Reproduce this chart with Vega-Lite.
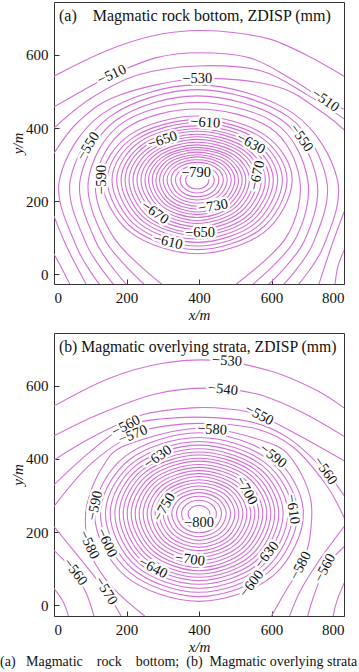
{
"$schema": "https://vega.github.io/schema/vega-lite/v6.json",
"background": "white",
"padding": {"left": 0, "top": 1, "right": 0, "bottom": 0},
"spacing": 9,
"config": {
  "view": {"stroke": "#333", "strokeWidth": 1},
  "axis": {"domain": false, "grid": false, "tickSize": -5, "tickColor": "#333", "tickWidth": 1, "labelFont": "Liberation Serif", "labelFontSize": 15, "labelColor": "#111", "titleFont": "Liberation Serif", "titleFontSize": 15, "titleFontWeight": "normal", "titleFontStyle": "italic", "titleColor": "#111"},
  "axisX": {"labelPadding": 11, "titlePadding": 2},
  "axisY": {"labelPadding": 11, "titlePadding": 0}
},
"title": {"text": "(a)\u00a0\u00a0\u00a0Magmatic\u00a0\u00a0\u00a0\u00a0rock\u00a0\u00a0\u00a0\u00a0bottom;\u00a0\u00a0(b)\u00a0\u00a0Magmatic overlying strata", "orient": "bottom", "anchor": "start", "frame": "group", "offset": 0, "dx": -54, "font": "Liberation Serif", "fontSize": 14, "fontWeight": "normal", "color": "#111"},
"datasets": {
"rings": [
{"p":"a","c":"-790","i":0,"x":427,"y":258},{"p":"a","c":"-790","i":1,"x":418,"y":273},{"p":"a","c":"-790","i":2,"x":395,"y":279},{"p":"a","c":"-790","i":3,"x":372,"y":273},{"p":"a","c":"-790","i":4,"x":363,"y":258},{"p":"a","c":"-790","i":5,"x":372,"y":240},{"p":"a","c":"-790","i":6,"x":395,"y":233},{"p":"a","c":"-790","i":7,"x":418,"y":240},
{"p":"a","c":"-780","i":0,"x":442,"y":258},{"p":"a","c":"-780","i":1,"x":428,"y":280},{"p":"a","c":"-780","i":2,"x":395,"y":289},{"p":"a","c":"-780","i":3,"x":362,"y":280},{"p":"a","c":"-780","i":4,"x":348,"y":258},{"p":"a","c":"-780","i":5,"x":362,"y":233},{"p":"a","c":"-780","i":6,"x":395,"y":222},{"p":"a","c":"-780","i":7,"x":428,"y":233},
{"p":"a","c":"-770","i":0,"x":455,"y":258},{"p":"a","c":"-770","i":1,"x":437,"y":286},{"p":"a","c":"-770","i":2,"x":395,"y":298},{"p":"a","c":"-770","i":3,"x":353,"y":286},{"p":"a","c":"-770","i":4,"x":335,"y":258},{"p":"a","c":"-770","i":5,"x":353,"y":225},{"p":"a","c":"-770","i":6,"x":395,"y":212},{"p":"a","c":"-770","i":7,"x":437,"y":225},
{"p":"a","c":"-760","i":0,"x":467,"y":258},{"p":"a","c":"-760","i":1,"x":446,"y":292},{"p":"a","c":"-760","i":2,"x":395,"y":306},{"p":"a","c":"-760","i":3,"x":344,"y":292},{"p":"a","c":"-760","i":4,"x":323,"y":258},{"p":"a","c":"-760","i":5,"x":344,"y":219},{"p":"a","c":"-760","i":6,"x":395,"y":203},{"p":"a","c":"-760","i":7,"x":446,"y":219},
{"p":"a","c":"-750","i":0,"x":478,"y":258},{"p":"a","c":"-750","i":1,"x":454,"y":297},{"p":"a","c":"-750","i":2,"x":395,"y":313},{"p":"a","c":"-750","i":3,"x":336,"y":297},{"p":"a","c":"-750","i":4,"x":312,"y":258},{"p":"a","c":"-750","i":5,"x":336,"y":213},{"p":"a","c":"-750","i":6,"x":395,"y":194},{"p":"a","c":"-750","i":7,"x":454,"y":213},
{"p":"a","c":"-740","i":0,"x":489,"y":258},{"p":"a","c":"-740","i":1,"x":461,"y":303},{"p":"a","c":"-740","i":2,"x":395,"y":321},{"p":"a","c":"-740","i":3,"x":329,"y":303},{"p":"a","c":"-740","i":4,"x":301,"y":258},{"p":"a","c":"-740","i":5,"x":329,"y":207},{"p":"a","c":"-740","i":6,"x":395,"y":186},{"p":"a","c":"-740","i":7,"x":461,"y":207},
{"p":"a","c":"-730","i":0,"x":499,"y":258},{"p":"a","c":"-730","i":1,"x":469,"y":307},{"p":"a","c":"-730","i":2,"x":395,"y":327},{"p":"a","c":"-730","i":3,"x":321,"y":307},{"p":"a","c":"-730","i":4,"x":291,"y":258},{"p":"a","c":"-730","i":5,"x":321,"y":201},{"p":"a","c":"-730","i":6,"x":395,"y":178},{"p":"a","c":"-730","i":7,"x":469,"y":201},
{"p":"a","c":"-720","i":0,"x":509,"y":258},{"p":"a","c":"-720","i":1,"x":476,"y":312},{"p":"a","c":"-720","i":2,"x":395,"y":334},{"p":"a","c":"-720","i":3,"x":314,"y":312},{"p":"a","c":"-720","i":4,"x":281,"y":258},{"p":"a","c":"-720","i":5,"x":314,"y":196},{"p":"a","c":"-720","i":6,"x":395,"y":170},{"p":"a","c":"-720","i":7,"x":476,"y":196},
{"p":"a","c":"-710","i":0,"x":519,"y":258},{"p":"a","c":"-710","i":1,"x":483,"y":317},{"p":"a","c":"-710","i":2,"x":395,"y":341},{"p":"a","c":"-710","i":3,"x":307,"y":317},{"p":"a","c":"-710","i":4,"x":271,"y":258},{"p":"a","c":"-710","i":5,"x":307,"y":191},{"p":"a","c":"-710","i":6,"x":395,"y":163},{"p":"a","c":"-710","i":7,"x":483,"y":191},
{"p":"a","c":"-700","i":0,"x":529,"y":258},{"p":"a","c":"-700","i":1,"x":490,"y":321},{"p":"a","c":"-700","i":2,"x":395,"y":347},{"p":"a","c":"-700","i":3,"x":300,"y":321},{"p":"a","c":"-700","i":4,"x":261,"y":258},{"p":"a","c":"-700","i":5,"x":300,"y":185},{"p":"a","c":"-700","i":6,"x":395,"y":155},{"p":"a","c":"-700","i":7,"x":490,"y":185},
{"p":"a","c":"-690","i":0,"x":539,"y":258},{"p":"a","c":"-690","i":1,"x":497,"y":326},{"p":"a","c":"-690","i":2,"x":395,"y":354},{"p":"a","c":"-690","i":3,"x":293,"y":326},{"p":"a","c":"-690","i":4,"x":251,"y":258},{"p":"a","c":"-690","i":5,"x":293,"y":180},{"p":"a","c":"-690","i":6,"x":395,"y":147},{"p":"a","c":"-690","i":7,"x":497,"y":180},
{"p":"a","c":"-680","i":0,"x":550,"y":258},{"p":"a","c":"-680","i":1,"x":505,"y":331},{"p":"a","c":"-680","i":2,"x":395,"y":361},{"p":"a","c":"-680","i":3,"x":285,"y":331},{"p":"a","c":"-680","i":4,"x":240,"y":258},{"p":"a","c":"-680","i":5,"x":285,"y":174},{"p":"a","c":"-680","i":6,"x":395,"y":139},{"p":"a","c":"-680","i":7,"x":505,"y":174},
{"p":"a","c":"-670","i":0,"x":561,"y":258},{"p":"a","c":"-670","i":1,"x":512,"y":336},{"p":"a","c":"-670","i":2,"x":395,"y":369},{"p":"a","c":"-670","i":3,"x":278,"y":336},{"p":"a","c":"-670","i":4,"x":229,"y":258},{"p":"a","c":"-670","i":5,"x":278,"y":168},{"p":"a","c":"-670","i":6,"x":395,"y":130},{"p":"a","c":"-670","i":7,"x":512,"y":168},
{"p":"a","c":"-660","i":0,"x":572,"y":258},{"p":"a","c":"-660","i":1,"x":520,"y":341},{"p":"a","c":"-660","i":2,"x":395,"y":376},{"p":"a","c":"-660","i":3,"x":270,"y":341},{"p":"a","c":"-660","i":4,"x":218,"y":258},{"p":"a","c":"-660","i":5,"x":270,"y":162},{"p":"a","c":"-660","i":6,"x":395,"y":122},{"p":"a","c":"-660","i":7,"x":520,"y":162},
{"p":"a","c":"-650","i":0,"x":583,"y":258},{"p":"a","c":"-650","i":1,"x":528,"y":346},{"p":"a","c":"-650","i":2,"x":395,"y":383},{"p":"a","c":"-650","i":3,"x":262,"y":346},{"p":"a","c":"-650","i":4,"x":207,"y":258},{"p":"a","c":"-650","i":5,"x":262,"y":155},{"p":"a","c":"-650","i":6,"x":395,"y":113},{"p":"a","c":"-650","i":7,"x":528,"y":155},
{"p":"a","c":"-640","i":0,"x":594,"y":258},{"p":"a","c":"-640","i":1,"x":536,"y":352},{"p":"a","c":"-640","i":2,"x":395,"y":391},{"p":"a","c":"-640","i":3,"x":254,"y":352},{"p":"a","c":"-640","i":4,"x":196,"y":258},{"p":"a","c":"-640","i":5,"x":254,"y":150},{"p":"a","c":"-640","i":6,"x":395,"y":105},{"p":"a","c":"-640","i":7,"x":536,"y":150},
{"p":"a","c":"-630","i":0,"x":605,"y":258},{"p":"a","c":"-630","i":1,"x":543,"y":357},{"p":"a","c":"-630","i":2,"x":395,"y":398},{"p":"a","c":"-630","i":3,"x":247,"y":357},{"p":"a","c":"-630","i":4,"x":185,"y":258},{"p":"a","c":"-630","i":5,"x":247,"y":143},{"p":"a","c":"-630","i":6,"x":395,"y":96},{"p":"a","c":"-630","i":7,"x":543,"y":143},
{"p":"a","c":"-620","i":0,"x":617,"y":258},{"p":"a","c":"-620","i":1,"x":552,"y":363},{"p":"a","c":"-620","i":2,"x":395,"y":406},{"p":"a","c":"-620","i":3,"x":238,"y":363},{"p":"a","c":"-620","i":4,"x":173,"y":258},{"p":"a","c":"-620","i":5,"x":238,"y":137},{"p":"a","c":"-620","i":6,"x":395,"y":87},{"p":"a","c":"-620","i":7,"x":552,"y":137},
{"p":"a","c":"-610","i":0,"x":630,"y":258},{"p":"a","c":"-610","i":1,"x":561,"y":369},{"p":"a","c":"-610","i":2,"x":395,"y":415},{"p":"a","c":"-610","i":3,"x":229,"y":369},{"p":"a","c":"-610","i":4,"x":160,"y":258},{"p":"a","c":"-610","i":5,"x":229,"y":130},{"p":"a","c":"-610","i":6,"x":395,"y":77},{"p":"a","c":"-610","i":7,"x":561,"y":130},
{"p":"a","c":"-600","i":0,"x":643,"y":258},{"p":"a","c":"-600","i":1,"x":570,"y":375},{"p":"a","c":"-600","i":2,"x":395,"y":423},{"p":"a","c":"-600","i":3,"x":220,"y":375},{"p":"a","c":"-600","i":4,"x":147,"y":258},{"p":"a","c":"-600","i":5,"x":220,"y":123},{"p":"a","c":"-600","i":6,"x":395,"y":67},{"p":"a","c":"-600","i":7,"x":570,"y":123},
{"p":"a","c":"-590","i":0,"x":657,"y":258},{"p":"a","c":"-590","i":1,"x":580,"y":382},{"p":"a","c":"-590","i":2,"x":395,"y":433},{"p":"a","c":"-590","i":3,"x":210,"y":382},{"p":"a","c":"-590","i":4,"x":133,"y":258},{"p":"a","c":"-590","i":5,"x":210,"y":115},{"p":"a","c":"-590","i":6,"x":395,"y":56},{"p":"a","c":"-590","i":7,"x":580,"y":115},
{"p":"b","c":"-800","i":0,"x":430,"y":250},{"p":"b","c":"-800","i":1,"x":421,"y":266},{"p":"b","c":"-800","i":2,"x":400,"y":273},{"p":"b","c":"-800","i":3,"x":379,"y":266},{"p":"b","c":"-800","i":4,"x":370,"y":250},{"p":"b","c":"-800","i":5,"x":379,"y":232},{"p":"b","c":"-800","i":6,"x":400,"y":225},{"p":"b","c":"-800","i":7,"x":421,"y":232},
{"p":"b","c":"-790","i":0,"x":448,"y":250},{"p":"b","c":"-790","i":1,"x":434,"y":276},{"p":"b","c":"-790","i":2,"x":400,"y":287},{"p":"b","c":"-790","i":3,"x":366,"y":276},{"p":"b","c":"-790","i":4,"x":352,"y":250},{"p":"b","c":"-790","i":5,"x":366,"y":222},{"p":"b","c":"-790","i":6,"x":400,"y":210},{"p":"b","c":"-790","i":7,"x":434,"y":222},
{"p":"b","c":"-780","i":0,"x":462,"y":250},{"p":"b","c":"-780","i":1,"x":444,"y":284},{"p":"b","c":"-780","i":2,"x":400,"y":298},{"p":"b","c":"-780","i":3,"x":356,"y":284},{"p":"b","c":"-780","i":4,"x":338,"y":250},{"p":"b","c":"-780","i":5,"x":356,"y":213},{"p":"b","c":"-780","i":6,"x":400,"y":198},{"p":"b","c":"-780","i":7,"x":444,"y":213},
{"p":"b","c":"-770","i":0,"x":475,"y":250},{"p":"b","c":"-770","i":1,"x":453,"y":291},{"p":"b","c":"-770","i":2,"x":400,"y":308},{"p":"b","c":"-770","i":3,"x":347,"y":291},{"p":"b","c":"-770","i":4,"x":325,"y":250},{"p":"b","c":"-770","i":5,"x":347,"y":206},{"p":"b","c":"-770","i":6,"x":400,"y":187},{"p":"b","c":"-770","i":7,"x":453,"y":206},
{"p":"b","c":"-760","i":0,"x":487,"y":250},{"p":"b","c":"-760","i":1,"x":462,"y":297},{"p":"b","c":"-760","i":2,"x":400,"y":317},{"p":"b","c":"-760","i":3,"x":338,"y":297},{"p":"b","c":"-760","i":4,"x":313,"y":250},{"p":"b","c":"-760","i":5,"x":338,"y":199},{"p":"b","c":"-760","i":6,"x":400,"y":177},{"p":"b","c":"-760","i":7,"x":462,"y":199},
{"p":"b","c":"-750","i":0,"x":499,"y":250},{"p":"b","c":"-750","i":1,"x":470,"y":304},{"p":"b","c":"-750","i":2,"x":400,"y":326},{"p":"b","c":"-750","i":3,"x":330,"y":304},{"p":"b","c":"-750","i":4,"x":301,"y":250},{"p":"b","c":"-750","i":5,"x":330,"y":192},{"p":"b","c":"-750","i":6,"x":400,"y":167},{"p":"b","c":"-750","i":7,"x":470,"y":192},
{"p":"b","c":"-740","i":0,"x":510,"y":250},{"p":"b","c":"-740","i":1,"x":478,"y":310},{"p":"b","c":"-740","i":2,"x":400,"y":335},{"p":"b","c":"-740","i":3,"x":322,"y":310},{"p":"b","c":"-740","i":4,"x":290,"y":250},{"p":"b","c":"-740","i":5,"x":322,"y":185},{"p":"b","c":"-740","i":6,"x":400,"y":158},{"p":"b","c":"-740","i":7,"x":478,"y":185},
{"p":"b","c":"-730","i":0,"x":521,"y":250},{"p":"b","c":"-730","i":1,"x":486,"y":316},{"p":"b","c":"-730","i":2,"x":400,"y":343},{"p":"b","c":"-730","i":3,"x":314,"y":316},{"p":"b","c":"-730","i":4,"x":279,"y":250},{"p":"b","c":"-730","i":5,"x":314,"y":179},{"p":"b","c":"-730","i":6,"x":400,"y":149},{"p":"b","c":"-730","i":7,"x":486,"y":179},
{"p":"b","c":"-720","i":0,"x":532,"y":250},{"p":"b","c":"-720","i":1,"x":493,"y":322},{"p":"b","c":"-720","i":2,"x":400,"y":352},{"p":"b","c":"-720","i":3,"x":307,"y":322},{"p":"b","c":"-720","i":4,"x":268,"y":250},{"p":"b","c":"-720","i":5,"x":307,"y":172},{"p":"b","c":"-720","i":6,"x":400,"y":140},{"p":"b","c":"-720","i":7,"x":493,"y":172},
{"p":"b","c":"-710","i":0,"x":543,"y":250},{"p":"b","c":"-710","i":1,"x":501,"y":328},{"p":"b","c":"-710","i":2,"x":400,"y":360},{"p":"b","c":"-710","i":3,"x":299,"y":328},{"p":"b","c":"-710","i":4,"x":257,"y":250},{"p":"b","c":"-710","i":5,"x":299,"y":166},{"p":"b","c":"-710","i":6,"x":400,"y":131},{"p":"b","c":"-710","i":7,"x":501,"y":166},
{"p":"b","c":"-700","i":0,"x":554,"y":250},{"p":"b","c":"-700","i":1,"x":509,"y":334},{"p":"b","c":"-700","i":2,"x":400,"y":368},{"p":"b","c":"-700","i":3,"x":291,"y":334},{"p":"b","c":"-700","i":4,"x":246,"y":250},{"p":"b","c":"-700","i":5,"x":291,"y":159},{"p":"b","c":"-700","i":6,"x":400,"y":122},{"p":"b","c":"-700","i":7,"x":509,"y":159},
{"p":"b","c":"-690","i":0,"x":565,"y":250},{"p":"b","c":"-690","i":1,"x":517,"y":340},{"p":"b","c":"-690","i":2,"x":400,"y":377},{"p":"b","c":"-690","i":3,"x":283,"y":340},{"p":"b","c":"-690","i":4,"x":235,"y":250},{"p":"b","c":"-690","i":5,"x":283,"y":153},{"p":"b","c":"-690","i":6,"x":400,"y":112},{"p":"b","c":"-690","i":7,"x":517,"y":153},
{"p":"b","c":"-680","i":0,"x":576,"y":250},{"p":"b","c":"-680","i":1,"x":524,"y":346},{"p":"b","c":"-680","i":2,"x":400,"y":385},{"p":"b","c":"-680","i":3,"x":276,"y":346},{"p":"b","c":"-680","i":4,"x":224,"y":250},{"p":"b","c":"-680","i":5,"x":276,"y":146},{"p":"b","c":"-680","i":6,"x":400,"y":103},{"p":"b","c":"-680","i":7,"x":524,"y":146},
{"p":"b","c":"-670","i":0,"x":587,"y":250},{"p":"b","c":"-670","i":1,"x":532,"y":352},{"p":"b","c":"-670","i":2,"x":400,"y":394},{"p":"b","c":"-670","i":3,"x":268,"y":352},{"p":"b","c":"-670","i":4,"x":213,"y":250},{"p":"b","c":"-670","i":5,"x":268,"y":140},{"p":"b","c":"-670","i":6,"x":400,"y":94},{"p":"b","c":"-670","i":7,"x":532,"y":140},
{"p":"b","c":"-660","i":0,"x":598,"y":250},{"p":"b","c":"-660","i":1,"x":540,"y":358},{"p":"b","c":"-660","i":2,"x":400,"y":402},{"p":"b","c":"-660","i":3,"x":260,"y":358},{"p":"b","c":"-660","i":4,"x":202,"y":250},{"p":"b","c":"-660","i":5,"x":260,"y":133},{"p":"b","c":"-660","i":6,"x":400,"y":85},{"p":"b","c":"-660","i":7,"x":540,"y":133},
{"p":"b","c":"-650","i":0,"x":609,"y":250},{"p":"b","c":"-650","i":1,"x":548,"y":364},{"p":"b","c":"-650","i":2,"x":400,"y":411},{"p":"b","c":"-650","i":3,"x":252,"y":364},{"p":"b","c":"-650","i":4,"x":191,"y":250},{"p":"b","c":"-650","i":5,"x":252,"y":127},{"p":"b","c":"-650","i":6,"x":400,"y":76},{"p":"b","c":"-650","i":7,"x":548,"y":127},
{"p":"b","c":"-640","i":0,"x":620,"y":250},{"p":"b","c":"-640","i":1,"x":556,"y":370},{"p":"b","c":"-640","i":2,"x":400,"y":419},{"p":"b","c":"-640","i":3,"x":244,"y":370},{"p":"b","c":"-640","i":4,"x":180,"y":250},{"p":"b","c":"-640","i":5,"x":244,"y":120},{"p":"b","c":"-640","i":6,"x":400,"y":67},{"p":"b","c":"-640","i":7,"x":556,"y":120},
{"p":"b","c":"-630","i":0,"x":632,"y":250},{"p":"b","c":"-630","i":1,"x":564,"y":376},{"p":"b","c":"-630","i":2,"x":400,"y":428},{"p":"b","c":"-630","i":3,"x":236,"y":376},{"p":"b","c":"-630","i":4,"x":168,"y":250},{"p":"b","c":"-630","i":5,"x":236,"y":113},{"p":"b","c":"-630","i":6,"x":400,"y":57},{"p":"b","c":"-630","i":7,"x":564,"y":113},
{"p":"b","c":"-620","i":0,"x":645,"y":250},{"p":"b","c":"-620","i":1,"x":573,"y":383},{"p":"b","c":"-620","i":2,"x":400,"y":438},{"p":"b","c":"-620","i":3,"x":227,"y":383},{"p":"b","c":"-620","i":4,"x":155,"y":250},{"p":"b","c":"-620","i":5,"x":227,"y":106},{"p":"b","c":"-620","i":6,"x":400,"y":46},{"p":"b","c":"-620","i":7,"x":573,"y":106},
{"p":"b","c":"-610","i":0,"x":658,"y":250},{"p":"b","c":"-610","i":1,"x":582,"y":390},{"p":"b","c":"-610","i":2,"x":400,"y":448},{"p":"b","c":"-610","i":3,"x":218,"y":390},{"p":"b","c":"-610","i":4,"x":142,"y":250},{"p":"b","c":"-610","i":5,"x":218,"y":98},{"p":"b","c":"-610","i":6,"x":400,"y":35},{"p":"b","c":"-610","i":7,"x":582,"y":98},
{"p":"b","c":"-600","i":0,"x":672,"y":250},{"p":"b","c":"-600","i":1,"x":592,"y":398},{"p":"b","c":"-600","i":2,"x":400,"y":459},{"p":"b","c":"-600","i":3,"x":208,"y":398},{"p":"b","c":"-600","i":4,"x":128,"y":250},{"p":"b","c":"-600","i":5,"x":208,"y":90},{"p":"b","c":"-600","i":6,"x":400,"y":23},{"p":"b","c":"-600","i":7,"x":592,"y":90},
{"p":"b","c":"-590","i":0,"x":688,"y":250},{"p":"b","c":"-590","i":1,"x":604,"y":407},{"p":"b","c":"-590","i":2,"x":400,"y":472},{"p":"b","c":"-590","i":3,"x":196,"y":407},{"p":"b","c":"-590","i":4,"x":112,"y":250},{"p":"b","c":"-590","i":5,"x":196,"y":80},{"p":"b","c":"-590","i":6,"x":400,"y":10},{"p":"b","c":"-590","i":7,"x":604,"y":80}
],
"open": [
{"p":"a","c":"-580h","i":0,"x":300,"y":-30},{"p":"a","c":"-580h","i":1,"x":165,"y":100},{"p":"a","c":"-580h","i":2,"x":115,"y":258},{"p":"a","c":"-580h","i":3,"x":200,"y":400},{"p":"a","c":"-580h","i":4,"x":395,"y":452},{"p":"a","c":"-580h","i":5,"x":597,"y":400},{"p":"a","c":"-580h","i":6,"x":678,"y":258},{"p":"a","c":"-580h","i":7,"x":640,"y":100},{"p":"a","c":"-580h","i":8,"x":499,"y":-30},
{"p":"a","c":"-570h","i":0,"x":251,"y":-30},{"p":"a","c":"-570h","i":1,"x":140,"y":95},{"p":"a","c":"-570h","i":2,"x":95,"y":258},{"p":"a","c":"-570h","i":3,"x":186,"y":412},{"p":"a","c":"-570h","i":4,"x":395,"y":470},{"p":"a","c":"-570h","i":5,"x":612,"y":412},{"p":"a","c":"-570h","i":6,"x":700,"y":258},{"p":"a","c":"-570h","i":7,"x":665,"y":95},{"p":"a","c":"-570h","i":8,"x":546,"y":-30},
{"p":"a","c":"-560h","i":0,"x":201,"y":-30},{"p":"a","c":"-560h","i":1,"x":115,"y":90},{"p":"a","c":"-560h","i":2,"x":72,"y":258},{"p":"a","c":"-560h","i":3,"x":172,"y":422},{"p":"a","c":"-560h","i":4,"x":395,"y":488},{"p":"a","c":"-560h","i":5,"x":628,"y":422},{"p":"a","c":"-560h","i":6,"x":725,"y":258},{"p":"a","c":"-560h","i":7,"x":690,"y":90},{"p":"a","c":"-560h","i":8,"x":590,"y":-30},
{"p":"a","c":"-550h","i":0,"x":166,"y":-30},{"p":"a","c":"-550h","i":1,"x":88,"y":85},{"p":"a","c":"-550h","i":2,"x":45,"y":258},{"p":"a","c":"-550h","i":3,"x":155,"y":432},{"p":"a","c":"-550h","i":4,"x":395,"y":505},{"p":"a","c":"-550h","i":5,"x":645,"y":432},{"p":"a","c":"-550h","i":6,"x":752,"y":258},{"p":"a","c":"-550h","i":7,"x":715,"y":85},{"p":"a","c":"-550h","i":8,"x":632,"y":-30},
{"p":"a","c":"-540h","i":0,"x":127,"y":-30},{"p":"a","c":"-540h","i":1,"x":60,"y":80},{"p":"a","c":"-540h","i":2,"x":15,"y":258},{"p":"a","c":"-540h","i":3,"x":135,"y":440},{"p":"a","c":"-540h","i":4,"x":395,"y":518},{"p":"a","c":"-540h","i":5,"x":660,"y":440},{"p":"a","c":"-540h","i":6,"x":782,"y":258},{"p":"a","c":"-540h","i":7,"x":745,"y":80},{"p":"a","c":"-540h","i":8,"x":673,"y":-30},
{"p":"a","c":"-530t","i":0,"x":0,"y":331},{"p":"a","c":"-530t","i":1,"x":70,"y":420},{"p":"a","c":"-530t","i":2,"x":180,"y":490},{"p":"a","c":"-530t","i":3,"x":395,"y":535},{"p":"a","c":"-530t","i":4,"x":610,"y":515},{"p":"a","c":"-530t","i":5,"x":730,"y":450},{"p":"a","c":"-530t","i":6,"x":800,"y":395},
{"p":"a","c":"-520t","i":0,"x":0,"y":400},{"p":"a","c":"-520t","i":1,"x":100,"y":480},{"p":"a","c":"-520t","i":2,"x":230,"y":545},{"p":"a","c":"-520t","i":3,"x":395,"y":570},{"p":"a","c":"-520t","i":4,"x":570,"y":557},{"p":"a","c":"-520t","i":5,"x":700,"y":490},{"p":"a","c":"-520t","i":6,"x":800,"y":425},
{"p":"a","c":"-510t","i":0,"x":0,"y":458},{"p":"a","c":"-510t","i":1,"x":80,"y":503},{"p":"a","c":"-510t","i":2,"x":160,"y":545},{"p":"a","c":"-510t","i":3,"x":280,"y":592},{"p":"a","c":"-510t","i":4,"x":400,"y":606},{"p":"a","c":"-510t","i":5,"x":540,"y":592},{"p":"a","c":"-510t","i":6,"x":650,"y":537},{"p":"a","c":"-510t","i":7,"x":748,"y":475},{"p":"a","c":"-510t","i":8,"x":800,"y":452},
{"p":"a","c":"-500t","i":0,"x":0,"y":542},{"p":"a","c":"-500t","i":1,"x":100,"y":592},{"p":"a","c":"-500t","i":2,"x":200,"y":632},{"p":"a","c":"-500t","i":3,"x":300,"y":658},{"p":"a","c":"-500t","i":4,"x":400,"y":667},{"p":"a","c":"-500t","i":5,"x":500,"y":661},{"p":"a","c":"-500t","i":6,"x":600,"y":642},{"p":"a","c":"-500t","i":7,"x":700,"y":598},{"p":"a","c":"-500t","i":8,"x":800,"y":542},
{"p":"a","c":"-530l","i":0,"x":0,"y":159},{"p":"a","c":"-530l","i":1,"x":35,"y":75},{"p":"a","c":"-530l","i":2,"x":90,"y":-30},
{"p":"a","c":"-520l","i":0,"x":0,"y":55},{"p":"a","c":"-520l","i":1,"x":22,"y":15},{"p":"a","c":"-520l","i":2,"x":45,"y":-30},
{"p":"a","c":"-530r","i":0,"x":800,"y":170},{"p":"a","c":"-530r","i":1,"x":765,"y":75},{"p":"a","c":"-530r","i":2,"x":730,"y":-30},
{"p":"a","c":"-520r","i":0,"x":800,"y":65},{"p":"a","c":"-520r","i":1,"x":783,"y":20},{"p":"a","c":"-520r","i":2,"x":775,"y":-30},
{"p":"b","c":"-530t","i":0,"x":0,"y":545},{"p":"b","c":"-530t","i":1,"x":150,"y":620},{"p":"b","c":"-530t","i":2,"x":300,"y":662},{"p":"b","c":"-530t","i":3,"x":450,"y":670},{"p":"b","c":"-530t","i":4,"x":600,"y":640},{"p":"b","c":"-530t","i":5,"x":720,"y":590},{"p":"b","c":"-530t","i":6,"x":800,"y":540},
{"p":"b","c":"-540t","i":0,"x":0,"y":463},{"p":"b","c":"-540t","i":1,"x":130,"y":525},{"p":"b","c":"-540t","i":2,"x":280,"y":578},{"p":"b","c":"-540t","i":3,"x":420,"y":594},{"p":"b","c":"-540t","i":4,"x":560,"y":578},{"p":"b","c":"-540t","i":5,"x":680,"y":530},{"p":"b","c":"-540t","i":6,"x":800,"y":462},
{"p":"b","c":"-550t","i":0,"x":0,"y":397},{"p":"b","c":"-550t","i":1,"x":110,"y":462},{"p":"b","c":"-550t","i":2,"x":240,"y":520},{"p":"b","c":"-550t","i":3,"x":380,"y":540},{"p":"b","c":"-550t","i":4,"x":480,"y":537},{"p":"b","c":"-550t","i":5,"x":566,"y":520},{"p":"b","c":"-550t","i":6,"x":680,"y":462},{"p":"b","c":"-550t","i":7,"x":800,"y":395},
{"p":"b","c":"-560t","i":0,"x":0,"y":329},{"p":"b","c":"-560t","i":1,"x":100,"y":420},{"p":"b","c":"-560t","i":2,"x":199,"y":490},{"p":"b","c":"-560t","i":3,"x":300,"y":510},{"p":"b","c":"-560t","i":4,"x":420,"y":514},{"p":"b","c":"-560t","i":5,"x":550,"y":500},{"p":"b","c":"-560t","i":6,"x":650,"y":455},{"p":"b","c":"-560t","i":7,"x":748,"y":367},{"p":"b","c":"-560t","i":8,"x":800,"y":300},
{"p":"b","c":"-570t","i":0,"x":0,"y":270},{"p":"b","c":"-570t","i":1,"x":100,"y":385},{"p":"b","c":"-570t","i":2,"x":218,"y":466},{"p":"b","c":"-570t","i":3,"x":320,"y":492},{"p":"b","c":"-570t","i":4,"x":430,"y":497},{"p":"b","c":"-570t","i":5,"x":560,"y":482},{"p":"b","c":"-570t","i":6,"x":660,"y":432},{"p":"b","c":"-570t","i":7,"x":750,"y":330},{"p":"b","c":"-570t","i":8,"x":800,"y":240},
{"p":"b","c":"-580h","i":0,"x":250,"y":-30},{"p":"b","c":"-580h","i":1,"x":160,"y":50},{"p":"b","c":"-580h","i":2,"x":105,"y":130},{"p":"b","c":"-580h","i":3,"x":88,"y":200},{"p":"b","c":"-580h","i":4,"x":92,"y":280},{"p":"b","c":"-580h","i":5,"x":135,"y":380},{"p":"b","c":"-580h","i":6,"x":200,"y":438},{"p":"b","c":"-580h","i":7,"x":400,"y":484},{"p":"b","c":"-580h","i":8,"x":590,"y":445},{"p":"b","c":"-580h","i":9,"x":660,"y":395},{"p":"b","c":"-580h","i":10,"x":708,"y":290},{"p":"b","c":"-580h","i":11,"x":705,"y":180},{"p":"b","c":"-580h","i":12,"x":681,"y":107},{"p":"b","c":"-580h","i":13,"x":640,"y":40},{"p":"b","c":"-580h","i":14,"x":600,"y":-30},
{"p":"b","c":"-550l","i":0,"x":0,"y":45},{"p":"b","c":"-550l","i":1,"x":25,"y":10},{"p":"b","c":"-550l","i":2,"x":40,"y":-30},
{"p":"b","c":"-560l","i":0,"x":0,"y":150},{"p":"b","c":"-560l","i":1,"x":30,"y":120},{"p":"b","c":"-560l","i":2,"x":58,"y":90},{"p":"b","c":"-560l","i":3,"x":90,"y":30},{"p":"b","c":"-560l","i":4,"x":110,"y":-30},
{"p":"b","c":"-570l","i":0,"x":0,"y":215},{"p":"b","c":"-570l","i":1,"x":70,"y":130},{"p":"b","c":"-570l","i":2,"x":143,"y":38},{"p":"b","c":"-570l","i":3,"x":185,"y":-30},
{"p":"b","c":"-550r","i":0,"x":800,"y":60},{"p":"b","c":"-550r","i":1,"x":780,"y":10},{"p":"b","c":"-550r","i":2,"x":770,"y":-30},
{"p":"b","c":"-560r","i":0,"x":800,"y":160},{"p":"b","c":"-560r","i":1,"x":748,"y":101},{"p":"b","c":"-560r","i":2,"x":715,"y":20},{"p":"b","c":"-560r","i":3,"x":700,"y":-30},
{"p":"b","c":"-570r","i":0,"x":800,"y":215},{"p":"b","c":"-570r","i":1,"x":730,"y":120},{"p":"b","c":"-570r","i":2,"x":680,"y":40},{"p":"b","c":"-570r","i":3,"x":650,"y":-30}
],
"labels": [
{"p":"a","t":"\u2212510","x":160,"y":545,"r":-25},
{"p":"a","t":"\u2212510","x":748,"y":475,"r":35},
{"p":"a","t":"\u2212530","x":395,"y":535,"r":0},
{"p":"a","t":"\u2212550","x":95,"y":350,"r":-58},
{"p":"a","t":"\u2212550","x":682,"y":372,"r":55},
{"p":"a","t":"\u2212590","x":133,"y":258,"r":-90},
{"p":"a","t":"\u2212610","x":417,"y":414,"r":3},
{"p":"a","t":"\u2212630","x":543,"y":357,"r":28},
{"p":"a","t":"\u2212650","x":300,"y":366,"r":-18},
{"p":"a","t":"\u2212670","x":278,"y":168,"r":35},
{"p":"a","t":"\u2212670","x":561,"y":270,"r":-78},
{"p":"a","t":"\u2212730","x":439,"y":185,"r":-10},
{"p":"a","t":"\u2212790","x":392,"y":277,"r":0},
{"p":"a","t":"\u2212650","x":403,"y":113,"r":0},
{"p":"a","t":"\u2212610","x":314,"y":88,"r":14},
{"p":"b","t":"\u2212530","x":477,"y":668,"r":3},
{"p":"b","t":"\u2212540","x":466,"y":590,"r":6},
{"p":"b","t":"\u2212550","x":566,"y":520,"r":28},
{"p":"b","t":"\u2212560","x":199,"y":490,"r":-28},
{"p":"b","t":"\u2212570","x":218,"y":466,"r":-22},
{"p":"b","t":"\u2212580","x":436,"y":480,"r":3},
{"p":"b","t":"\u2212590","x":604,"y":407,"r":38},
{"p":"b","t":"\u2212560","x":748,"y":367,"r":55},
{"p":"b","t":"\u2212630","x":287,"y":405,"r":-35},
{"p":"b","t":"\u2212750","x":305,"y":268,"r":-60},
{"p":"b","t":"\u2212700","x":530,"y":313,"r":60},
{"p":"b","t":"\u2212800","x":400,"y":225,"r":0},
{"p":"b","t":"\u2212610","x":658,"y":262,"r":82},
{"p":"b","t":"\u2212590","x":114,"y":272,"r":-78},
{"p":"b","t":"\u2212600","x":145,"y":170,"r":65},
{"p":"b","t":"\u2212580","x":96,"y":165,"r":65},
{"p":"b","t":"\u2212560","x":58,"y":90,"r":52},
{"p":"b","t":"\u2212570","x":143,"y":38,"r":58},
{"p":"b","t":"\u2212640","x":273,"y":101,"r":28},
{"p":"b","t":"\u2212700","x":375,"y":124,"r":8},
{"p":"b","t":"\u2212630","x":588,"y":137,"r":-52},
{"p":"b","t":"\u2212600","x":546,"y":58,"r":-52},
{"p":"b","t":"\u2212580","x":681,"y":107,"r":-62},
{"p":"b","t":"\u2212560","x":748,"y":101,"r":-62}
]
},
"vconcat": [
{
  "width": 290, "height": 282,
  "title": {"text": "(a)\u00a0\u00a0\u00a0\u00a0Magmatic rock bottom, ZDISP (mm)", "anchor": "start", "frame": "group", "offset": -35, "baseline": "alphabetic", "dx": 5, "font": "Liberation Serif", "fontSize": 16, "fontWeight": "normal", "color": "#111"},
  "encoding": {
    "x": {"field": "x", "type": "quantitative", "scale": {"domain": [0, 800], "nice": false, "zero": false}, "axis": {"values": [0, 200, 400, 600, 800], "title": "x/m"}},
    "y": {"field": "y", "type": "quantitative", "scale": {"domain": [-27, 745], "nice": false, "zero": false}, "axis": {"values": [0, 200, 400, 600], "title": "y/m"}}
  },
  "layer": [
    {"data": {"name": "rings"}, "transform": [{"filter": "datum.p === 'a'"}], "mark": {"type": "line", "interpolate": "cardinal-closed", "clip": true, "color": "#d46fd8", "strokeWidth": 1.1}, "encoding": {"detail": {"field": "c", "type": "nominal"}, "order": {"field": "i", "type": "quantitative"}}},
    {"data": {"name": "open"}, "transform": [{"filter": "datum.p === 'a'"}], "mark": {"type": "line", "interpolate": "cardinal", "clip": true, "color": "#d46fd8", "strokeWidth": 1.1}, "encoding": {"detail": {"field": "c", "type": "nominal"}, "order": {"field": "i", "type": "quantitative"}}},
    {"data": {"name": "labels"}, "transform": [{"filter": "datum.p === 'a'"}], "mark": {"type": "text", "font": "Liberation Serif", "fontSize": 14.5, "baseline": "middle", "fill": "white", "stroke": "white", "strokeWidth": 5, "strokeJoin": "round"}, "encoding": {"text": {"field": "t", "type": "nominal"}, "angle": {"field": "r", "type": "quantitative", "scale": null}}},
    {"data": {"name": "labels"}, "transform": [{"filter": "datum.p === 'a'"}], "mark": {"type": "text", "font": "Liberation Serif", "fontSize": 14.5, "baseline": "middle", "color": "#111"}, "encoding": {"text": {"field": "t", "type": "nominal"}, "angle": {"field": "r", "type": "quantitative", "scale": null}}}
  ]
},
{
  "width": 290, "height": 283,
  "title": {"text": "(b) Magmatic overlying strata, ZDISP (mm)", "anchor": "start", "frame": "group", "offset": -35, "baseline": "alphabetic", "dx": 5, "font": "Liberation Serif", "fontSize": 15.7, "fontWeight": "normal", "color": "#111"},
  "encoding": {
    "x": {"field": "x", "type": "quantitative", "scale": {"domain": [0, 800], "nice": false, "zero": false}, "axis": {"values": [0, 200, 400, 600, 800], "title": "x/m"}},
    "y": {"field": "y", "type": "quantitative", "scale": {"domain": [-30, 745], "nice": false, "zero": false}, "axis": {"values": [0, 200, 400, 600], "title": "y/m"}}
  },
  "layer": [
    {"data": {"name": "rings"}, "transform": [{"filter": "datum.p === 'b'"}], "mark": {"type": "line", "interpolate": "cardinal-closed", "clip": true, "color": "#d46fd8", "strokeWidth": 1.1}, "encoding": {"detail": {"field": "c", "type": "nominal"}, "order": {"field": "i", "type": "quantitative"}}},
    {"data": {"name": "open"}, "transform": [{"filter": "datum.p === 'b'"}], "mark": {"type": "line", "interpolate": "cardinal", "clip": true, "color": "#d46fd8", "strokeWidth": 1.1}, "encoding": {"detail": {"field": "c", "type": "nominal"}, "order": {"field": "i", "type": "quantitative"}}},
    {"data": {"name": "labels"}, "transform": [{"filter": "datum.p === 'b'"}], "mark": {"type": "text", "font": "Liberation Serif", "fontSize": 14.5, "baseline": "middle", "fill": "white", "stroke": "white", "strokeWidth": 5, "strokeJoin": "round"}, "encoding": {"text": {"field": "t", "type": "nominal"}, "angle": {"field": "r", "type": "quantitative", "scale": null}}},
    {"data": {"name": "labels"}, "transform": [{"filter": "datum.p === 'b'"}], "mark": {"type": "text", "font": "Liberation Serif", "fontSize": 14.5, "baseline": "middle", "color": "#111"}, "encoding": {"text": {"field": "t", "type": "nominal"}, "angle": {"field": "r", "type": "quantitative", "scale": null}}}
  ]
}
]
}
